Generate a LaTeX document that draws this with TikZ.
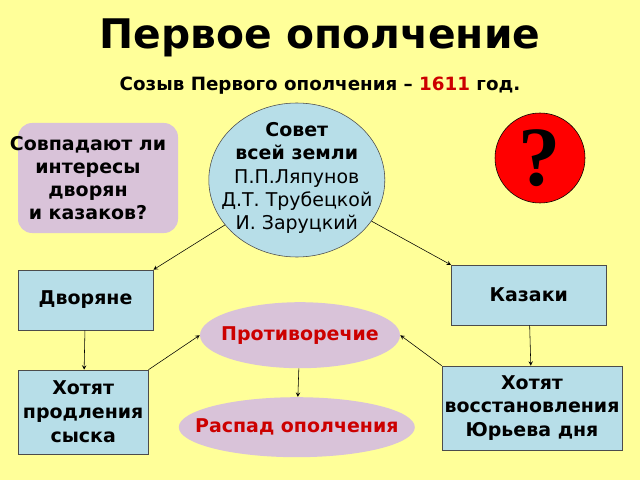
\documentclass[tikz,border=0pt]{standalone}
\usepackage{fontspec}
\setmainfont{DejaVu Sans}
\newfontfamily\qfont{Liberation Serif}
\usetikzlibrary{shapes.geometric, positioning}
\definecolor{bgyellow}{HTML}{FFFF99}
\definecolor{boxblue}{HTML}{B7DEE8}
\definecolor{boxpink}{HTML}{D9C3D9}
\definecolor{txtred}{HTML}{CC0000}
\tikzset{
  plainbox/.style = {draw=black!70, fill=boxblue, rectangle, align=center, inner sep=0pt, font=\bfseries\fontsize{13.5}{17}\selectfont},
  oval/.style = {draw=none, fill=boxpink, ellipse, inner sep=0pt},
  ovaltext/.style = {text=txtred, font=\bfseries\fontsize{13.5}{17}\selectfont},
  link/.style = {->, >=stealth, thin}
}
\begin{document}
\begin{tikzpicture}
  \fill[bgyellow] (0,0) rectangle (16,12);
  \useasboundingbox (0,0) rectangle (16,12);
  \node (title) at (8,11.05) {\bfseries\fontsize{29}{34}\selectfont Первое ополчение};
  \node (sub) at (8,9.85) {\bfseries\fontsize{13}{16}\selectfont Созыв Первого ополчения – \textcolor{txtred}{1611} год.};
  \node[draw=black!70, fill=boxblue, ellipse, inner sep=0pt, minimum width=4.4cm, minimum height=3.85cm] (council) at (7.42,7.5) {};
  \node[align=center, font=\fontsize{13.5}{16.5}\selectfont] (councilt) at (7.42,7.55)
        {\textbf{Совет}\\\textbf{всей земли}\\П.П.Ляпунов\\Д.Т. Трубецкой\\И. Заруцкий};
  \node[fill=boxpink, rounded corners=10pt, minimum width=4cm, minimum height=2.75cm] (askbox) at (2.45,7.55) {};
  \node[align=center, font=\bfseries\fontsize{13.5}{16.5}\selectfont] (ask) at (2.2,7.55)
        {Совпадают ли\\интересы\\дворян\\и казаков?};
  \node[circle, draw=black, fill=red, inner sep=0pt, minimum size=2.25cm, font=\qfont\bfseries\fontsize{60}{60}\selectfont] (quest) at (13.5,8.05) {?};
  \node[plainbox, minimum width=3.375cm, minimum height=1.5cm] (nobles) at (2.14,4.5) {Дворяне};
  \node[plainbox, minimum width=3.875cm, minimum height=1.5cm] (cossacks) at (13.22,4.62) {Казаки};
  \node[oval, minimum width=5cm, minimum height=1.65cm] (conflict) at (7.5,3.62) {};
  \node[ovaltext] (conflictt) at (conflict) {Противоречие};
  \node[plainbox, minimum width=3.25cm, minimum height=2.1cm] (wantl) at (2.08,1.7) {Хотят\\продления\\сыска};
  \node[plainbox, minimum width=4.5cm, minimum height=2.1cm] (wantr) at (13.3,1.8) {Хотят\\восстановления\\Юрьева дня};
  \node[oval, minimum width=5.9cm, minimum height=1.5cm] (split) at (7.42,1.32) {};
  \node[ovaltext] (splitt) at (split) {Распад ополчения};
  \draw[link] (council) -- (nobles.north east);
  \draw[link] (council) -- (cossacks.north west);
  \draw[link] (nobles) -- (wantl);
  \draw[link] (cossacks) -- (wantr);
  \draw[link] (wantl.north east) -- (conflict.west);
  \draw[link] (wantr.north west) -- (conflict.east);
  \draw[link] (conflict) -- (split);
\end{tikzpicture}
\end{document}
